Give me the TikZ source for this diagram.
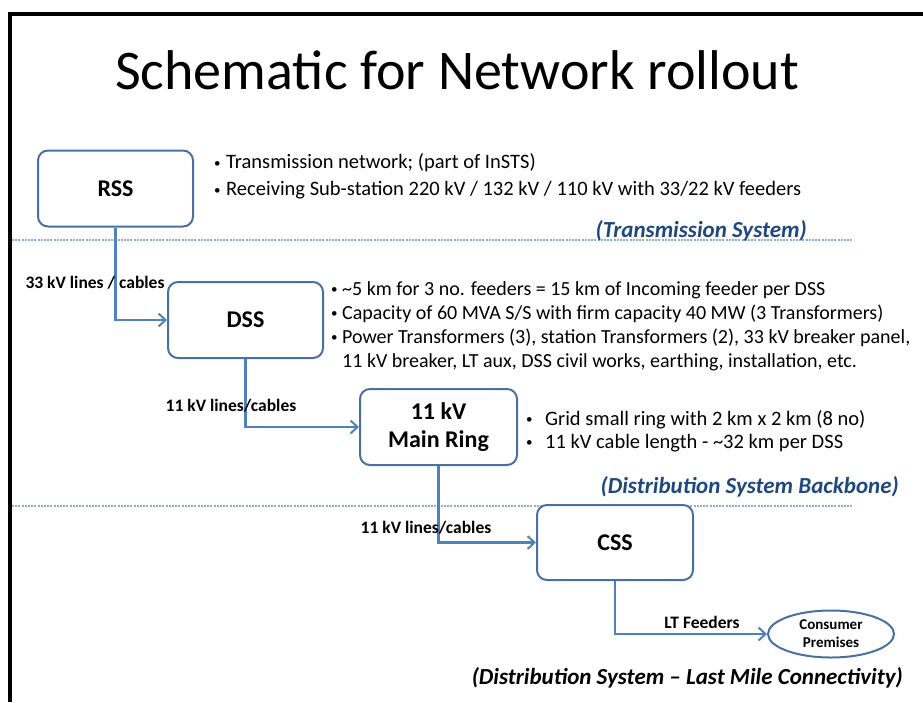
\documentclass[tikz,border=0pt]{standalone}
\usepackage{fontspec}
\setmainfont{Carlito}
\usetikzlibrary{arrows.meta,shapes.geometric}
\definecolor{cadre}{RGB}{74,112,160}
\definecolor{liaison}{RGB}{79,129,189}
\definecolor{pointille}{RGB}{142,170,210}
\definecolor{bleusys}{RGB}{31,73,125}
\tikzset{
  poste/.style={draw=cadre, line width=2pt, rounded corners=10pt, fill=white,
    minimum width=155pt, minimum height=76pt, align=center,
    font=\fontsize{24}{28}\selectfont\bfseries},
  fleche/.style={liaison, line width=2.2pt,
    -{Straight Barb[length=7pt,width=13pt,line width=2pt]}},
  etiq/.style={font=\fontsize{17.5}{20}\selectfont\bfseries, inner sep=0pt},
  puces/.style={anchor=west, align=left, inner sep=0pt},
  systeme/.style={anchor=east, inner sep=0pt,
    font=\fontsize{23}{27}\selectfont\bfseries\itshape},
  limite/.style={pointille, line width=1.4pt, dash pattern=on 2pt off 1.2pt}
}
\newcommand{\puce}[1]{\makebox[#1][l]{\raisebox{1.5pt}{\fontsize{13}{13}\selectfont\textbullet}}}
\begin{document}
\begin{tikzpicture}[x=1pt,y=-1pt]
  \useasboundingbox (0,0) rectangle (923,702);
  % cadre
  \draw[line width=4pt] (10,702) -- (10,14) -- (923,14);
  \node[font=\fontsize{56}{60}\selectfont] (titre) at (457,70) {Schematic for Network rollout};
  % limites des systemes
  \draw[limite] (12,240) -- (853,240);
  \draw[limite] (12,506) -- (852,506);
  \node[systeme, text=bleusys] (trans) at (807,231) {(Transmission System)};
  \node[systeme, text=bleusys] (dorsale) at (899,487) {(Distribution System Backbone)};
  \node[systeme] (dernier) at (903,678) {(Distribution System -- Last Mile Connectivity)};
  % postes
  \node[poste] (RSS) at (115.5,188.5) {RSS};
  \node[poste] (DSS) at (245.5,320) {DSS};
  \node[poste, minimum width=157pt] (ring) at (438.5,427) {11 kV\\Main Ring};
  \node[poste, minimum width=156pt, minimum height=75pt] (CSS) at (615,542.5) {CSS};
  \node[ellipse, draw=cadre, line width=2pt, minimum width=126pt, minimum height=47pt,
    inner sep=0pt, align=center, font=\fontsize{15}{18}\selectfont\bfseries] (conso) at (831,634)
    {Consumer\\Premises};
  % liaisons
  \draw[fleche] (RSS.south) |- (DSS.west);
  \draw[fleche] (DSS.south) |- (ring.west);
  \draw[fleche] (ring.south) |- (CSS.west);
  \draw[fleche] (CSS.south) |- (conso.west);
  \node[etiq] (l33) at (95,283) {33 kV lines / cables};
  \node[etiq] (l11a) at (231,406) {11 kV lines/cables};
  \node[etiq] (l11b) at (426,528) {11 kV lines/cables};
  \node[etiq] (lLT) at (702,622) {LT Feeders};
  % descriptions
  \node[puces, font=\fontsize{20.5}{27}\selectfont] (dRSS) at (214,176.5)
    {\puce{12pt}Transmission network; (part of InSTS)\\
     \puce{12pt}Receiving Sub-station 220 kV / 132 kV / 110 kV with 33/22 kV feeders};
  \node[puces, font=\fontsize{20}{24}\selectfont] (dDSS) at (331,326)
    {\puce{11pt}\textasciitilde5 km for 3 no. feeders = 15 km of Incoming feeder per DSS\\
     \puce{11pt}Capacity of 60 MVA S/S with firm capacity 40 MW (3 Transformers)\\
     \puce{11pt}Power Transformers (3), station Transformers (2), 33 kV breaker panel,\\
     \hspace*{11pt}11 kV breaker, LT aux, DSS civil works, earthing, installation, etc.};
  \node[puces, font=\fontsize{20.5}{23}\selectfont] (dring) at (526,431)
    {\puce{19pt}Grid small ring with 2 km x 2 km (8 no)\\
     \puce{19pt}11 kV cable length - \textasciitilde32 km per DSS};
\end{tikzpicture}
\end{document}
